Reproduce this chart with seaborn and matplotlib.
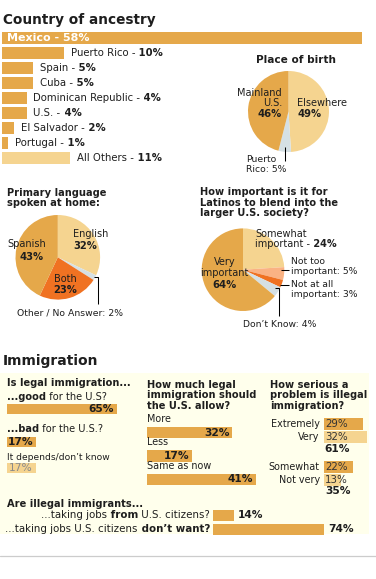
import matplotlib
matplotlib.use('Agg')
import matplotlib.pyplot as plt
from matplotlib.patches import Rectangle
import seaborn as sns
import pandas as pd

W, H = 376, 579

# --- data ---
ancestry = ['Mexico', 'Puerto Rico', 'Spain', 'Cuba', 'Dominican Republic',
            'U.S.', 'El Salvador', 'Portugal', 'All Others']
ancestry_pct = [58, 10, 5, 5, 4, 4, 2, 1, 11]

birth = ['Elsewhere', 'Puerto Rico', 'Mainland U.S.']
birth_pct = [49, 5, 46]

language = ['English', 'Other / No Answer', 'Both', 'Spanish']
language_pct = [32, 2, 23, 43]

blend = ['Somewhat important', 'Not too important', 'Not at all important',
         'Don’t Know', 'Very important']
blend_pct = [24, 5, 3, 4, 64]

legal_q = ['good', 'bad', 'depends']
legal_pct = [65, 17, 17]

allow_q = ['More', 'Less', 'Same as now']
allow_pct = [32, 17, 41]

serious_q = ['Extremely', 'Very', 'Somewhat', 'Not very']
serious_pct = [29, 32, 22, 13]

jobs_q = ['from', 'don’t want']
jobs_pct = [14, 74]

# colours
ORANGE = '#E5A84A'
LIGHT = '#F5D490'
GREY = '#D5E0E4'
HOT = '#F07222'
SALMON = '#FAB283'
TXT = '#1e1e1e'
PANEL = '#FFFFEC'

sns.set_theme(style='white')
plt.rcParams['font.family'] = ['DejaVu Sans']

fig = plt.figure(figsize=(W / 100, H / 100), dpi=100, facecolor='white')


def px_axes(x, y, w, h, z=2):
    ax = fig.add_axes([x / W, 1 - (y + h) / H, w / W, h / H], zorder=z)
    ax.set_axis_off()
    return ax


def canvas(z):
    ax = px_axes(0, 0, W, H, z)
    ax.set_xlim(0, W)
    ax.set_ylim(H, 0)
    return ax


bg = canvas(0)
fg = canvas(10)


def rich(ax, xy, parts, ha='left', va='baseline', size=7.2, color=TXT,
         offset=(0, 0)):
    seq = parts if ha == 'left' else parts[::-1]
    t = None
    for s, wt in seq:
        if t is None:
            t = ax.annotate(s, xy, xytext=offset, textcoords='offset points',
                            ha=ha, va=va, fontsize=size, fontweight=wt,
                            color=color)
        else:
            t = ax.annotate(s, (1, 0) if ha == 'left' else (0, 0),
                            xycoords=t, ha=ha, va='bottom', fontsize=size,
                            fontweight=wt, color=color)
    return t


def txt(x, y, s, size=7.0, weight='normal', ha='left', color=TXT):
    fg.text(x, y, s, fontsize=size, fontweight=weight, ha=ha, va='baseline',
            color=color)


def lines(x, y0, step, rows, size=7.1, weight='bold', ha='left'):
    for k, s in enumerate(rows):
        txt(x, y0 + k * step, s, size, weight, ha)


def hbars(x, y, row, cats, vals, colors, scale, width=0.8, w=None):
    n = len(cats)
    if w is None:
        w = max(vals) * scale + 2
    ax = px_axes(x, y, w, n * row)
    df = pd.DataFrame({'cat': cats, 'val': vals})
    sns.barplot(data=df, x='val', y='cat', hue='cat', orient='h',
                palette=dict(zip(cats, colors)), width=width, legend=False,
                saturation=1, linewidth=0, errorbar=None, ax=ax)
    ax.set_xlim(0, w / scale)
    ax.set_ylim(n - 0.5, -0.5)
    ax.set_axis_off()
    return ax


def pie(cx, cy, r, vals, colors):
    ax = px_axes(cx - r, cy - r, 2 * r, 2 * r)
    ax.pie(vals, colors=colors, startangle=90, counterclock=False,
           wedgeprops=dict(linewidth=0))
    ax.set_xlim(-1, 1)
    ax.set_ylim(-1, 1)
    ax.set_aspect('equal')
    ax.set_axis_off()
    return ax


def leader(xs, ys):
    fg.plot(xs, ys, color='black', lw=0.75, solid_capstyle='butt')


# ---------------- Country of ancestry ----------------
txt(3, 24, 'Country of ancestry', 9.8, 'bold')
anc_colors = [ORANGE] * (len(ancestry) - 1) + [LIGHT]
ax = hbars(2, 30.5, 15, ancestry, ancestry_pct, anc_colors, 6.2, width=0.8,
           w=360)
ax.annotate(f'{ancestry[0]} - {ancestry_pct[0]}%', (0, 0), xytext=(3.6, 0),
            textcoords='offset points', ha='left', va='center', fontsize=8,
            fontweight='bold', color='white')
for i in range(1, len(ancestry)):
    rich(ax, (ancestry_pct[i], i),
         [(f'{ancestry[i]} -', 'normal'), (f' {ancestry_pct[i]}%', 'bold')],
         va='center', size=7.3, offset=(4.8, 0))

# ---------------- Place of birth ----------------
txt(296, 63, 'Place of birth', 7.6, 'bold', ha='center')
pie(288.5, 111.5, 40.5, birth_pct, [LIGHT, GREY, ORANGE])
lines(282, 96, 10.5, ['Mainland', 'U.S.'], 7.0, 'normal', 'right')
txt(282, 117, f'{birth_pct[2]}%', 7.2, 'bold', 'right')
txt(297, 106, birth[0], 7.0)
txt(297, 117, f'{birth_pct[0]}%', 7.2, 'bold')
leader([285, 285], [147, 161])
lines(246, 162, 10, ['Puerto', f'Rico: {birth_pct[1]}%'], 6.7, 'normal')

# ---------------- Primary language ----------------
lines(7, 196, 10.5, ['Primary language', 'spoken at home:'])
pie(57.8, 257.3, 42.3, language_pct, [LIGHT, GREY, HOT, ORANGE])
txt(73, 237, language[0], 7.0)
txt(73, 249, f'{language_pct[0]}%', 7.2, 'bold')
txt(7, 247, language[3], 7.0)
txt(32, 260, f'{language_pct[3]}%', 7.2, 'bold', 'center')
txt(65, 281.5, language[2], 7.0, ha='center')
txt(65, 293, f'{language_pct[2]}%', 7.2, 'bold', 'center')
leader([94, 97.5, 97.5], [276.5, 276.5, 304])
txt(17, 316, f'{language[1]}: {language_pct[1]}%', 6.7)

# ---------------- Blend into U.S. society ----------------
lines(200, 195, 10.5, ['How important is it for', 'Latinos to blend into the',
                       'larger U.S. society?'])
pie(243, 269.7, 41.3, blend_pct, [LIGHT, SALMON, HOT, GREY, ORANGE])
txt(255, 237, 'Somewhat', 7.0)
rich(fg, (255, 247), [('important -', 'normal'), (f' {blend_pct[0]}%', 'bold')],
     size=7.0)
lines(224.5, 265, 11, ['Very', 'important'], 7.0, 'normal', 'center')
txt(224.5, 288, f'{blend_pct[4]}%', 7.2, 'bold', 'center')
leader([281, 289], [269.5, 269.5])
lines(291, 264, 10, ['Not too', f'important: {blend_pct[1]}%'], 6.7, 'normal')
leader([279.5, 289], [284.5, 284.5])
lines(291, 287, 10, ['Not at all', f'important: {blend_pct[2]}%'], 6.7,
      'normal')
leader([275, 278.5, 278.5], [287.5, 287.5, 316])
txt(243, 327, f'{blend[3]}: {blend_pct[3]}%', 6.7)

# ---------------- Immigration ----------------
txt(3, 365.5, 'Immigration', 10, 'bold')
bg.add_patch(Rectangle((0, 373), 369, 161, color=PANEL, lw=0))
bg.plot([0, W], [555.5, 555.5], color='#CCCCCC', lw=0.9)

# Is legal immigration...
txt(7, 386.5, 'Is legal immigration...', 7.1, 'bold')
rich(fg, (7, 400), [('...good', 'bold'), (' for the U.S?', 'normal')], size=7.1)
rich(fg, (7, 432), [('...bad', 'bold'), (' for the U.S.?', 'normal')], size=7.1)
txt(7, 459.5, 'It depends/don’t know', 6.6)
legal_rows = [(404, ORANGE, 'bold', TXT), (437, ORANGE, 'bold', TXT),
              (463, LIGHT, 'normal', '#8a8a8a')]
for (y, col, wt, c), q, v in zip(legal_rows, legal_q, legal_pct):
    ax = hbars(7, y, 10, [q], [v], [col], 1.69, width=1.0)
    ax.annotate(f'{v}%', (v, 0), xytext=(-2, 0), textcoords='offset points',
                ha='right', va='center', fontsize=7.7, fontweight=wt, color=c)

# How much legal immigration should the U.S. allow?
lines(147, 387.5, 10.8, ['How much legal', 'immigration should',
                         'the U.S. allow?'])
ax = hbars(147, 420.75, 23.5, allow_q, allow_pct, [ORANGE] * 3, 2.66,
           width=0.47)
for i, (q, v) in enumerate(zip(allow_q, allow_pct)):
    ax.annotate(f'{v}%', (v, i), xytext=(-2, 0), textcoords='offset points',
                ha='right', va='center', fontsize=7.7, fontweight='bold',
                color=TXT)
    ax.annotate(q, (0, i), xytext=(0, 6.2), textcoords='offset points',
                ha='left', va='bottom', fontsize=6.9, color=TXT)

# How serious a problem is illegal immigration?
lines(270, 387.5, 10.8, ['How serious a', 'problem is illegal',
                         'immigration?'])
for k, y in enumerate([418, 461]):
    cats = serious_q[2 * k:2 * k + 2]
    vals = serious_pct[2 * k:2 * k + 2]
    ax = hbars(324, y, 12.6, cats, vals, [ORANGE, LIGHT], 1.34, width=0.96)
    for i, (q, v) in enumerate(zip(cats, vals)):
        ax.annotate(f'{v}%', (0, i), xytext=(0.7, 0),
                    textcoords='offset points', ha='left', va='center',
                    fontsize=7.4, color='#333333')
        ax.annotate(q, (0, i), xytext=(-3, 0), textcoords='offset points',
                    ha='right', va='center', fontsize=6.9, color=TXT)
txt(324, 452.5, f'{serious_pct[0] + serious_pct[1]}%', 7.7, 'bold')
txt(325, 494, f'{serious_pct[2] + serious_pct[3]}%', 7.7, 'bold')

# Are illegal immigrants...
txt(7, 507, 'Are illegal immigrants...', 7.1, 'bold')
ax = hbars(213, 508.5, 14, jobs_q, jobs_pct, [ORANGE, ORANGE], 1.5,
           width=0.79)
job_parts = [[('...taking jobs', 'normal'), (' from', 'bold'),
              (' U.S. citizens?', 'normal')],
             [('...taking jobs U.S. citizens', 'normal'),
              (' don’t want?', 'bold')]]
for i, (parts, v) in enumerate(zip(job_parts, jobs_pct)):
    rich(ax, (0, i), parts, ha='right', va='center', size=7.35,
         offset=(-2.2, 0))
    ax.annotate(f'{v}%', (v, i), xytext=(3, 0), textcoords='offset points',
                ha='left', va='center', fontsize=7.7, fontweight='bold',
                color=TXT)

fig.savefig('out.png', dpi=100)
